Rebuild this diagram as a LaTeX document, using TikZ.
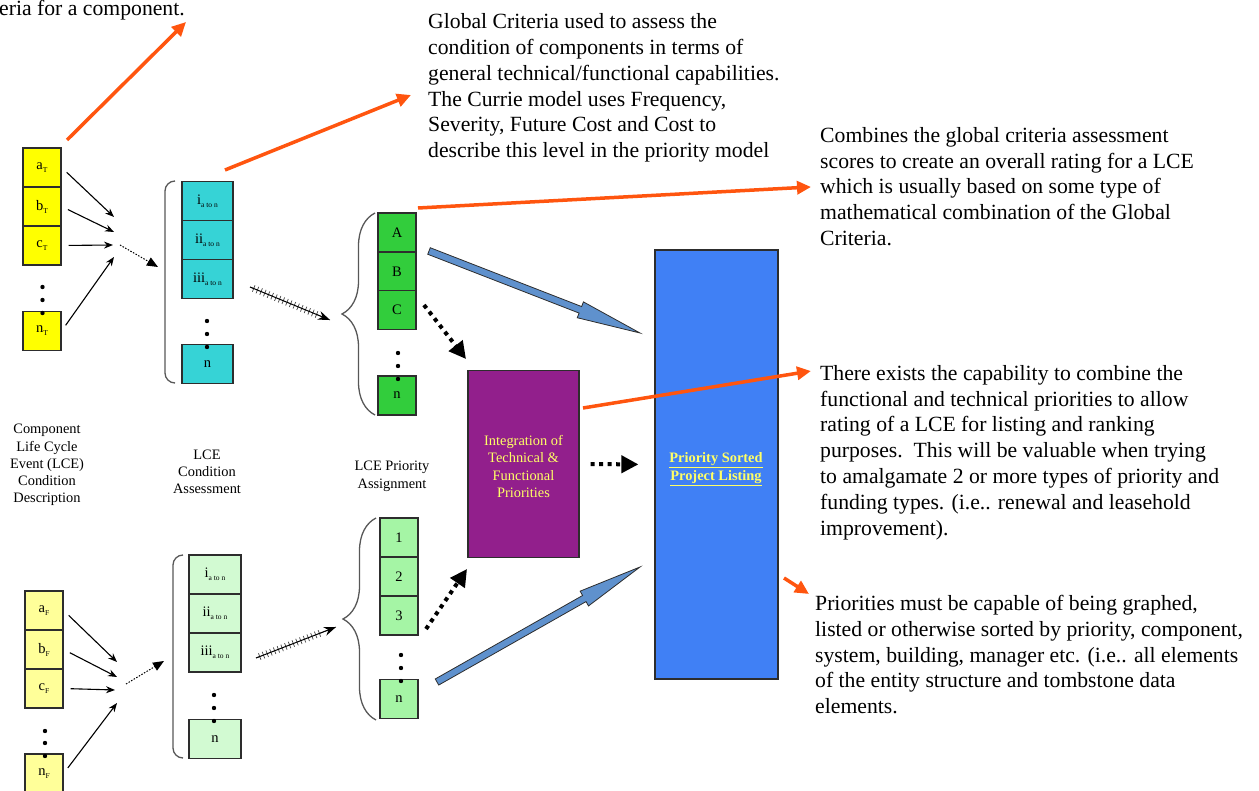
\documentclass[tikz,border=0pt]{standalone}
\usepackage{fontspec}
\setmainfont{Liberation Serif}
\usetikzlibrary{arrows.meta,calc,decorations.pathreplacing}
\definecolor{orng}{RGB}{255,85,15}
\definecolor{ytop}{RGB}{255,255,0}
\definecolor{ybot}{RGB}{255,255,153}
\definecolor{cyanb}{RGB}{54,211,214}
\definecolor{greenA}{RGB}{50,205,60}
\definecolor{palegreen}{RGB}{210,250,210}
\definecolor{lightgreen}{RGB}{165,245,165}
\definecolor{steel}{RGB}{95,145,205}
\definecolor{bigblue}{RGB}{64,128,245}
\definecolor{purp}{RGB}{146,31,140}
\definecolor{ytext}{RGB}{255,255,102}
\definecolor{edge}{RGB}{45,45,45}
\newcommand\mysub[1]{\raisebox{-3pt}{\fontsize{7.5}{8}\selectfont #1}}
\newcommand\blkarrow[2]{%
  \coordinate (#1-#2-b) at ($(#2)!64pt!(#1)$);
  \filldraw[fill=steel, draw=edge, line width=0.8pt, line join=miter]
    ($(#1)!3.5pt!-90:(#2)$) -- ($(#1-#2-b)!3.5pt!90:(#1)$) -- ($(#1-#2-b)!8.5pt!90:(#1)$)
    -- (#2) -- ($(#1-#2-b)!8.5pt!-90:(#1)$) -- ($(#1-#2-b)!3.5pt!-90:(#1)$)
    -- ($(#1)!3.5pt!90:(#2)$) -- cycle;}
\begin{document}
\begin{tikzpicture}[x=1pt,y=-1pt,
  txt/.style={anchor=north west, inner sep=0pt, align=left, font=\fontsize{21.7}{25.8}\selectfont},
  lbl/.style={anchor=north, inner sep=0pt, align=center, font=\fontsize{14.4}{17.3}\selectfont},
  cell/.style={draw=edge, line width=1.2pt, minimum height=39pt, inner sep=0pt, font=\fontsize{14.5}{16}\selectfont},
  ycell/.style={cell, fill=ytop, minimum width=38pt},
  ylcell/.style={cell, fill=ybot, minimum width=38pt},
  ccell/.style={cell, fill=cyanb, minimum width=51pt},
  pcell/.style={cell, fill=palegreen, minimum width=52pt},
  gcell/.style={cell, fill=greenA, minimum width=38pt},
  lgcell/.style={cell, fill=lightgreen, minimum width=38pt},
  dotc/.style={fill=black},
  oarr/.style={draw=orng, line width=3.5pt, -{Triangle[length=14pt,width=13pt]}},
  blk/.style={line width=1.1pt, -{Stealth[length=9pt,width=7pt]}},
  thindot/.style={line width=1pt, dash pattern=on 1.5pt off 1.5pt, -{Triangle[length=11pt,width=9pt]}},
  thickdot/.style={line width=4pt, dash pattern=on 4pt off 4.5pt, -{Triangle[length=17pt,width=17pt]}},
  hatch/.style={line width=1pt, -{Stealth[length=12pt,width=9pt]}},
  hticks/.style={decorate, decoration={ticks, segment length=4pt, amplitude=3.5pt, pre length=4pt, post length=14pt}, line width=0.7pt, black!75},
  brk/.style={draw=edge!80, line width=1.3pt}
]
\useasboundingbox (0,0) rectangle (1259,791);

% ---------- text blocks ----------
\node[anchor=base west, inner sep=0pt, font=\fontsize{21.7}{25.8}\selectfont] (tl) at (-1,15.5) {eria for a component.};
\node[txt] (glob) at (428,13.5) {Global Criteria used to assess the\\condition of components in terms of\\general technical/functional capabilities.\\The Currie model uses Frequency,\\Severity, Future Cost and Cost to\\describe this level in the priority model};
\node[txt] (comb) at (820,127) {Combines the global criteria assessment\\scores to create an overall rating for a LCE\\which is usually based on some type of\\mathematical combination of the Global\\Criteria.};
\node[txt] (exist) at (820,365) {There exists the capability to combine the\\functional and technical priorities to allow\\rating of a LCE for listing and ranking\\purposes.\ \ This will be valuable when trying\\to amalgamate 2 or more types of priority and\\funding types. (i.e.. renewal and leasehold\\improvement).};
\node[txt] (prio) at (815,595) {Priorities must be capable of being graphed,\\listed or otherwise sorted by priority, component,\\system, building, manager etc. (i.e.. all elements\\of the entity structure and tombstone data\\elements.};

\node[lbl] (lab1) at (47,424) {Component\\Life Cycle\\Event (LCE)\\Condition\\Description};
\node[lbl] (lab2) at (207,449.5) {LCE\\Condition\\Assessment};
\node[lbl] (lab3) at (392,461) {LCE Priority\\Assignment};

% ---------- top yellow ----------
\node[ycell] (aT) at (42,167.5) {a\mysub{T}};
\node[ycell] (bT) at (42,206.5) {b\mysub{T}};
\node[ycell] (cT) at (42,245.5) {c\mysub{T}};
\node[ycell] (nT) at (42,331) {n\mysub{T}};
\foreach \yy in {287,300,313} \fill[dotc] (42.5,\yy) circle (2.2pt);

% ---------- top cyan ----------
\node[ccell] (iT) at (207.5,201) {i\mysub{a to n}};
\node[ccell] (iiT) at (207.5,240) {ii\mysub{a to n}};
\node[ccell] (iiiT) at (207.5,279) {iii\mysub{a to n}};
\node[ccell] (cnT) at (207.5,364) {n};
\foreach \yy in {321,334,347} \fill[dotc] (207,\yy) circle (2.2pt);
\draw[brk, rounded corners=10pt] (175,181) -- (165,181) -- (165,383) -- (175,383);

% ---------- top green ----------
\node[gcell] (A) at (397,232.5) {A};
\node[gcell] (B) at (397,271.5) {B};
\node[gcell] (C) at (397,310) {C};
\node[gcell] (gn) at (397,395.5) {n};
\foreach \yy in {353,366,379} \fill[dotc] (398,\yy) circle (2.2pt);
\draw[brk, decorate, decoration={brace, amplitude=33pt}] (375,415) -- (375,213);

% ---------- lower yellow ----------
\node[ylcell] (aF) at (44,610.5) {a\mysub{F}};
\node[ylcell] (bF) at (44,649.5) {b\mysub{F}};
\node[ylcell] (cF) at (44,688.5) {c\mysub{F}};
\node[ylcell] (nF) at (44,773.5) {n\mysub{F}};
\foreach \yy in {731,743,756} \fill[dotc] (45,\yy) circle (2.2pt);

% ---------- lower pale green ----------
\node[pcell] (iF) at (215,574.5) {i\mysub{a to n}};
\node[pcell] (iiF) at (215,613.5) {ii\mysub{a to n}};
\node[pcell] (iiiF) at (215,652.5) {iii\mysub{a to n}};
\node[pcell] (pnF) at (215,739) {n};
\foreach \yy in {695,708,721} \fill[dotc] (214,\yy) circle (2.2pt);
\draw[brk, rounded corners=10pt] (183,555) -- (173,555) -- (173,758) -- (183,758);

% ---------- lower light green ----------
\node[lgcell] (p1) at (399,537.5) {1};
\node[lgcell] (p2) at (399,576.5) {2};
\node[lgcell] (p3) at (399,615.5) {3};
\node[lgcell] (pn) at (399,699) {n};
\foreach \yy in {655,668,681} \fill[dotc] (401,\yy) circle (2.2pt);
\draw[brk, decorate, decoration={brace, amplitude=33pt}] (376,720) -- (376,518);

% ---------- purple and blue boxes ----------
\node[draw=edge, line width=1.2pt, fill=purp, minimum width=111pt, minimum height=187pt, inner sep=0pt] (integ) at (523.5,464) {};
\node[inner sep=0pt, align=center, text=ytext, font=\fontsize{14.4}{17.5}\selectfont] (integtxt) at (523.5,466.5) {Integration of\\Technical \&\\Functional\\Priorities};
\node[draw=edge, line width=1.2pt, fill=bigblue, minimum width=123pt, minimum height=429pt, inner sep=0pt] (plist) at (716.5,464.5) {};
\node[inner sep=0pt, align=center, text=ytext, font=\bfseries\fontsize{14.4}{18}\selectfont] (plisttxt) at (716,469) {\underline{Priority Sorted}\\\underline{Project Listing}};

% ---------- coordinates ----------
\coordinate (cv1) at (114,217);
\coordinate (cv2) at (114,232);
\coordinate (cv3) at (113,245);
\coordinate (cv4) at (114,257);
\coordinate (dTs) at (120,245);
\coordinate (dTe) at (158,267);
\coordinate (cw1) at (117,662);
\coordinate (cw2) at (117,677);
\coordinate (cw3) at (115,690);
\coordinate (cw4) at (117,703);
\coordinate (dFs) at (126,684);
\coordinate (dFe) at (164,661);
\coordinate (h1s) at (250,287);
\coordinate (h1e) at (330,320);
\coordinate (h2s) at (256,658);
\coordinate (h2e) at (336,627);
\coordinate (d1s) at (424,305);
\coordinate (d1e) at (466,359);
\coordinate (d2s) at (426,629);
\coordinate (d2e) at (467,569);
\coordinate (b1s) at (429,251);
\coordinate (b1e) at (640,333);
\coordinate (b2s) at (437,682);
\coordinate (b2e) at (640,567);
\coordinate (o1s) at (67,140);
\coordinate (o1e) at (186,22);
\coordinate (o2s) at (225,170);
\coordinate (o2e) at (411,95);
\coordinate (o3s) at (418,208);
\coordinate (o4s) at (583,408);
\coordinate (o4e) at (811,371);
\coordinate (o5s) at (784,578);
\coordinate (o5e) at (809,594);

% ---------- small black arrows ----------
\draw[blk, shorten <=7pt] (aT.east) -- (cv1);
\draw[blk, shorten <=7pt] (bT.east) -- (cv2);
\draw[blk, shorten <=7pt] (cT.east) -- (cv3);
\draw[blk, shorten <=7pt] (nT.east) -- (cv4);
\draw[thindot] (dTs) -- (dTe);
\draw[blk, shorten <=7pt] (aF.east) -- (cw1);
\draw[blk, shorten <=7pt] (bF.east) -- (cw2);
\draw[blk, shorten <=7pt] (cF.east) -- (cw3);
\draw[blk, shorten <=7pt] (nF.east) -- (cw4);
\draw[thindot] (dFs) -- (dFe);

% ---------- hatched arrows ----------
\draw[hticks] (h1s) -- (h1e);
\draw[hatch] (h1s) -- (h1e);
\draw[hticks] (h2s) -- (h2e);
\draw[hatch] (h2s) -- (h2e);

% ---------- thick dotted arrows ----------
\draw[thickdot] (d1s) -- (d1e);
\draw[thickdot] (d2s) -- (d2e);
\draw[thickdot, shorten <=11pt, shorten >=16pt] (integ.east) -- (plist.west);

% ---------- block arrows ----------
\blkarrow{b1s}{b1e}
\blkarrow{b2s}{b2e}

% ---------- orange arrows ----------
\draw[oarr] (o1s) -- (o1e);
\draw[oarr] (o2s) -- (o2e);
\draw[oarr, shorten >=9pt] (o3s) -- (comb.west);
\draw[oarr] (o4s) -- (o4e);
\draw[oarr] (o5s) -- (o5e);
\end{tikzpicture}
\end{document}
